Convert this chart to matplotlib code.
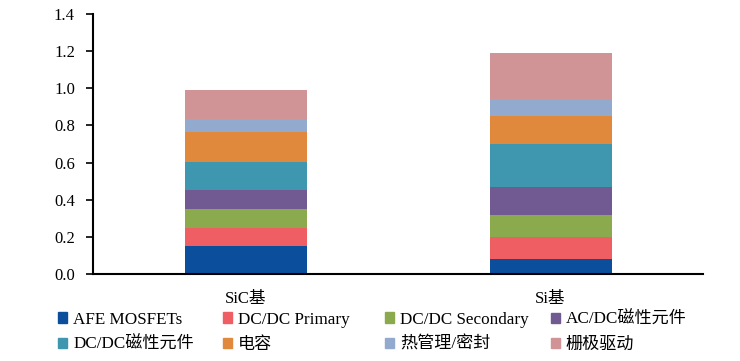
import numpy as np
import matplotlib
matplotlib.use("Agg")
import matplotlib.pyplot as plt
from matplotlib.patches import Patch

plt.rcParams['font.family'] = ['Liberation Serif', 'Noto Sans CJK SC']

categories = ["SiC基", "Si基"]
components = ["AFE MOSFETs", "DC/DC Primary", "DC/DC Secondary", "AC/DC磁性元件",
              "DC/DC磁性元件", "电容", "热管理/密封", "栅极驱动"]
sic_values = [0.15, 0.10, 0.10, 0.10, 0.155, 0.16, 0.07, 0.155]
si_values = [0.08, 0.12, 0.12, 0.15, 0.23, 0.15, 0.09, 0.25]
colors = ["#0B4F9C", "#EE5E62", "#8BAA4E", "#715A91",
          "#3E97AE", "#E0893C", "#93AACF", "#D09396"]
yticks = [0.0, 0.2, 0.4, 0.6, 0.8, 1.0, 1.2, 1.4]

fig = plt.figure(figsize=(7.4, 3.61), dpi=100)
ax = fig.add_axes([0.1257, 0.241, 0.8243, 0.72])

x = np.arange(len(categories))
vals = np.array([sic_values, si_values]).T
bottom = np.zeros(len(categories))
for name, v, c in zip(components, vals, colors):
    ax.bar(x, v, width=0.4, bottom=bottom, color=c, label=name)
    bottom += v

ax.set_xlim(-0.5, 1.5)
ax.set_ylim(0, 1.4)
ax.set_yticks(yticks)
ax.set_yticklabels([f"{t:.1f}" for t in yticks], fontsize=12)
ax.set_xticks(x)
ax.set_xticklabels(categories, fontsize=12)
ax.tick_params(axis='x', length=0, pad=12)
ax.tick_params(axis='y', length=5, width=1.2, pad=8)
for s in ['top', 'right']:
    ax.spines[s].set_visible(False)
for s in ['left', 'bottom']:
    ax.spines[s].set_linewidth(1.5)

# legend: 4 evenly spaced columns, 2 rows
col_x = [0.078, 0.301, 0.520, 0.744]
for k in range(4):
    idx = [k, k + 4]
    handles = [Patch(color=colors[i]) for i in idx]
    labels = [components[i] for i in idx]
    fig.legend(handles, labels, loc='upper left', bbox_to_anchor=(col_x[k], 0.137),
               frameon=False, fontsize=12.3, handlelength=0.55, handleheight=0.55,
               handletextpad=0.35, labelspacing=0.55, borderpad=0, borderaxespad=0)

fig.savefig("out.png", dpi=100)
